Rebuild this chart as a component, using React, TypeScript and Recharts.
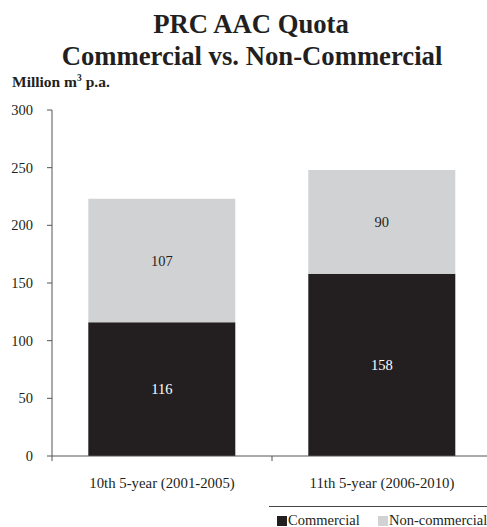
import { BarChart, Bar, XAxis, YAxis, Legend, LabelList } from "recharts";

const periods = ["10th 5-year (2001-2005)", "11th 5-year (2006-2010)"];
const commercial = [116, 158];
const nonCommercial = [107, 90];
const yTicks = [0, 50, 100, 150, 200, 250, 300];

const DARK = "#231f20";
const LIGHT = "#d1d2d4";
const FONT = "Liberation Serif";

const W = 487;
const H = 527;
const MARGIN = { top: 110, right: -5, bottom: 0, left: 0 };
const Y_WIDTH = 52;
const BAND = (W - Y_WIDTH - MARGIN.left - MARGIN.right) / periods.length;

const data = periods.map((p, i) => ({
  period: p,
  commercial: commercial[i],
  nonCommercial: nonCommercial[i],
}));

function PeriodTick(props: any) {
  const { x, y, payload, index } = props;
  const axisY = H - 36 - 35;
  return (
    <g>
      <line x1={x - BAND / 2} x2={x - BAND / 2} y1={axisY} y2={axisY + 5} stroke="#555" />
      {index === periods.length - 1 && (
        <line x1={x + BAND / 2} x2={x + BAND / 2} y1={axisY} y2={axisY + 5} stroke="#555" />
      )}
      <text x={x} y={y} dy="0.71em" textAnchor="middle" fill={DARK} fontSize={14.8} fontFamily={FONT}>
        {payload.value}
      </text>
    </g>
  );
}

function LegendBox() {
  const items = [
    { name: "Commercial", color: DARK, left: 277 },
    { name: "Non-commercial", color: LIGHT, left: 378 },
  ];
  return (
    <div style={{ position: "relative", height: 36, fontFamily: FONT, color: DARK }}>
      <div style={{ position: "absolute", left: 269, top: 15, width: 220, height: 1, background: "#444" }} />
      {items.map((it) => (
        <div key={it.name}>
          <div
            style={{ position: "absolute", left: it.left, top: 25, width: 10, height: 10, background: it.color }}
          />
          <span
            style={{ position: "absolute", left: it.left + 11, top: 22, fontSize: 14.5, lineHeight: "14.5px", whiteSpace: "nowrap" }}
          >
            {it.name}
          </span>
        </div>
      ))}
    </div>
  );
}

export default function App() {
  return (
    <div style={{ position: "absolute", left: 0, top: 0, width: W, height: H, background: "#fff", overflow: "hidden" }}>
      <svg width={W} height={100} style={{ position: "absolute", left: 0, top: 0 }}>
        <text x={251} y={33} textAnchor="middle" fontFamily={FONT} fontWeight="bold" fontSize={26.7} fill={DARK}>
          PRC AAC Quota
        </text>
        <text x={252} y={65} textAnchor="middle" fontFamily={FONT} fontWeight="bold" fontSize={26.7} fill={DARK}>
          Commercial vs. Non-Commercial
        </text>
        <text x={12} y={87} fontFamily={FONT} fontWeight="bold" fontSize={15.5} fill={DARK}>
          <tspan>Million m</tspan>
          <tspan dy={-6} fontSize={9.5}>3</tspan>
          <tspan dy={6}>{" p.a."}</tspan>
        </text>
      </svg>
      <BarChart width={W} height={H} data={data} margin={MARGIN} barCategoryGap="16.5%">
        <XAxis
          dataKey="period"
          height={35}
          tickLine={false}
          tickSize={0}
          tickMargin={21}
          stroke="#555"
          tick={<PeriodTick />}
          interval={0}
        />
        <YAxis
          width={Y_WIDTH}
          domain={[0, 300]}
          ticks={yTicks}
          tickSize={5}
          tickMargin={14}
          stroke="#555"
          tick={{ fill: DARK, fontSize: 14.5, fontFamily: FONT }}
        />
        <Legend verticalAlign="bottom" content={<LegendBox />} />
        <Bar dataKey="commercial" stackId="a" fill={DARK} isAnimationActive={false}>
          <LabelList dataKey="commercial" position="center" fill="#fff" fontSize={14.5} fontFamily={FONT} />
        </Bar>
        <Bar dataKey="nonCommercial" stackId="a" fill={LIGHT} isAnimationActive={false}>
          <LabelList dataKey="nonCommercial" position="center" fill={DARK} fontSize={14.5} fontFamily={FONT} />
        </Bar>
      </BarChart>
    </div>
  );
}
